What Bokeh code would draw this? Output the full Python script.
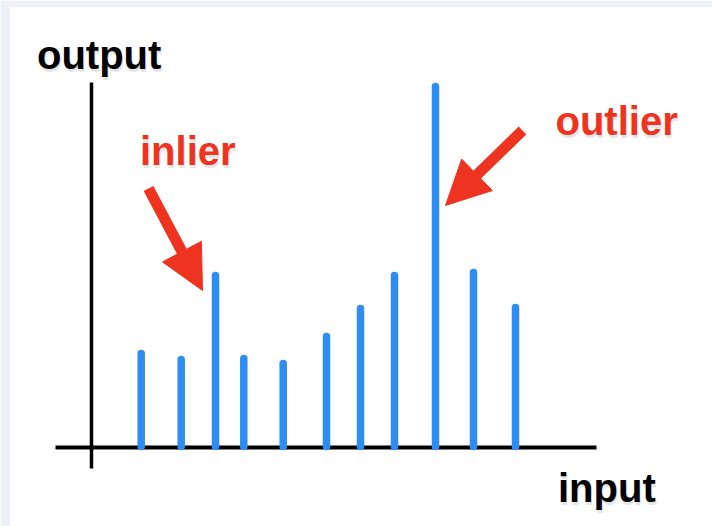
from bokeh.plotting import figure
from bokeh.models import ColumnDataSource, Range1d, Arrow, NormalHead
from bokeh.core.properties import value
from bokeh.embed import file_html
from bokeh.resources import INLINE

# ---- data ----
inputs = [14.07, 18.07, 21.5, 24.33, 28.27, 32.6, 36.0, 39.4, 43.5, 47.3, 51.5]
outputs = [9.3, 8.7, 17.1, 8.8, 8.3, 11.0, 13.8, 17.1, 36.0, 17.4, 13.9]
baseline = [0.0] * len(inputs)

labels_black = ["output", "input"]
labels_red = ["inlier", "outlier"]

BLUE = "#2e8df0"
RED = "#ee3420"
FONT = value("Liberation Sans")

p = figure(width=712, height=526, output_backend="svg", toolbar_location=None,
           x_range=Range1d(1.0, 71.2), y_range=Range1d(-8.0, 43.9),
           min_border=0, min_border_left=10, min_border_right=0,
           min_border_top=7, min_border_bottom=0)
p.xaxis.visible = False
p.yaxis.visible = False
p.grid.visible = False
p.outline_line_color = None
p.background_fill_color = "white"
p.border_fill_color = "#eef2f6"

# axes drawn as lines
p.segment(x0=[9.1], y0=[-2.2], x1=[9.1], y1=[36.4], line_color="black", line_width=3.5)
p.segment(x0=[5.5], y0=[-0.1], x1=[59.6], y1=[-0.1], line_color="black", line_width=4)

# bars
src = ColumnDataSource(dict(x=inputs, y0=baseline, y1=outputs))
p.segment(x0="x", y0="y0", x1="x", y1="y1", source=src, line_color=BLUE,
          line_width=7.5, line_cap="round")

# texts with soft shadow
def label(txt, x, y, color):
    p.text(x=[x + 0.1], y=[y - 0.3], text=[txt], text_font=FONT, text_font_style="bold",
           text_font_size="40px", text_color="#999999", text_alpha=0.25,
           text_baseline="alphabetic")
    p.text(x=[x], y=[y], text=[txt], text_font=FONT, text_font_style="bold",
           text_font_size="40px", text_color=color, text_baseline="alphabetic")

label(labels_black[0], 3.65, 39.2, "black")
label(labels_black[1], 55.75, -4.1, "black")
label(labels_red[0], 13.95, 29.6, RED)
label(labels_red[1], 55.5, 32.6, RED)

# arrows
for xs, ys, xe, ye in [(14.8, 25.8, 20.2, 15.6), (52.2, 31.6, 44.5, 24.1)]:
    p.add_layout(Arrow(end=NormalHead(size=44, fill_color=RED, line_color=RED),
                       x_start=xs, y_start=ys, x_end=xe, y_end=ye,
                       line_color=RED, line_width=11))

open("out.html", "w").write(file_html(p, INLINE))
